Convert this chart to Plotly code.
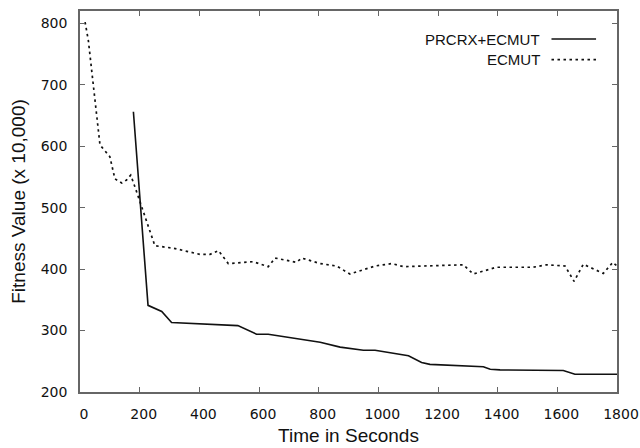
import plotly.graph_objects as go

# PRCRX+ECMUT (solid)
prcrx_t = [179, 228, 274, 307, 529, 592, 631, 805, 872, 950, 989, 1101,
           1145, 1173, 1352, 1375, 1408, 1620, 1659, 1800]
prcrx_fit = [656, 341, 331, 313, 308, 294, 294, 281, 273, 268, 268, 259,
             248, 245, 241, 237, 236, 235, 229, 229]

# ECMUT (dotted)
ecmut_t = [17, 28, 67, 100, 117, 140, 156, 170, 184, 207, 223, 229, 251,
           313, 402, 436, 464, 497, 581, 631, 654, 726, 743, 805, 860, 905,
           989, 1045, 1084, 1285, 1318, 1396, 1519, 1564, 1626, 1656, 1687,
           1754, 1786, 1800]
ecmut_fit = [802, 772, 602, 583, 547, 540, 545, 553, 534, 501, 480, 470, 438,
             434, 424, 424, 430, 409, 412, 404, 418, 411, 418, 409, 405, 392,
             405, 409, 404, 407, 392, 403, 403, 407, 405, 380, 408,
             393, 411, 405]

x_ticks = [0, 200, 400, 600, 800, 1000, 1200, 1400, 1600, 1800]
y_ticks = [200, 300, 400, 500, 600, 700, 800]

AXIS_COLOR = "#666666"
DOT = "2.5px,3.5px"
TICK_FONT = dict(family="DejaVu Sans", size=14, color="#111111")
TEXT_FONT = "Liberation Sans, Arial, sans-serif"

fig = go.Figure()
fig.add_trace(go.Scatter(
    x=prcrx_t, y=prcrx_fit, mode="lines", name="PRCRX+ECMUT",
    line=dict(color="#111111", width=1.6),
))
fig.add_trace(go.Scatter(
    x=ecmut_t, y=ecmut_fit, mode="lines", name="ECMUT",
    line=dict(color="#111111", width=1.7, dash=DOT),
))

# gnuplot-style key: text on the left, line sample on the right
for i, (label, dash) in enumerate([("PRCRX+ECMUT", "solid"), ("ECMUT", DOT)]):
    yy = 0.9265 - i * 0.054
    fig.add_annotation(
        xref="paper", yref="paper", x=0.86, y=yy, text=label,
        showarrow=False, xanchor="right", yanchor="middle",
        font=dict(family=TEXT_FONT, size=15, color="#111111"),
    )
    fig.add_shape(
        type="line", xref="paper", yref="paper",
        x0=0.878, x1=0.961, y0=yy, y1=yy,
        line=dict(color="#111111", width=1.6 if dash == "solid" else 1.7, dash=dash),
    )

fig.update_layout(
    width=640, height=448,
    paper_bgcolor="white", plot_bgcolor="white",
    margin=dict(l=80, r=23, t=11, b=56),
    showlegend=False,
    xaxis=dict(
        range=[0, 1800], tickvals=x_ticks, showgrid=False, zeroline=False,
        showline=True, linecolor=AXIS_COLOR, linewidth=1.5, mirror="ticks",
        ticks="inside", ticklen=5, tickcolor=AXIS_COLOR, tickwidth=1,
        tickfont=TICK_FONT, ticklabelshift=4, ticklabelstandoff=8,
        automargin=False,
        title=dict(text="Time in Seconds", standoff=8,
                   font=dict(family=TEXT_FONT, size=19, color="#111111")),
    ),
    yaxis=dict(
        range=[200, 820], tickvals=y_ticks, showgrid=False, zeroline=False,
        showline=True, linecolor=AXIS_COLOR, linewidth=1.5, mirror="ticks",
        ticks="inside", ticklen=5, tickcolor=AXIS_COLOR, tickwidth=1,
        tickfont=TICK_FONT, ticklabelstandoff=8, automargin=False,
        title=dict(text="Fitness Value (x 10,000)", standoff=10,
                   font=dict(family=TEXT_FONT, size=19, color="#111111")),
    ),
)

# the page's default body margin would shift the figure by 8px
fig.write_html("out.html", config={"displayModeBar": False},
               post_script="document.body.style.margin='0';")
